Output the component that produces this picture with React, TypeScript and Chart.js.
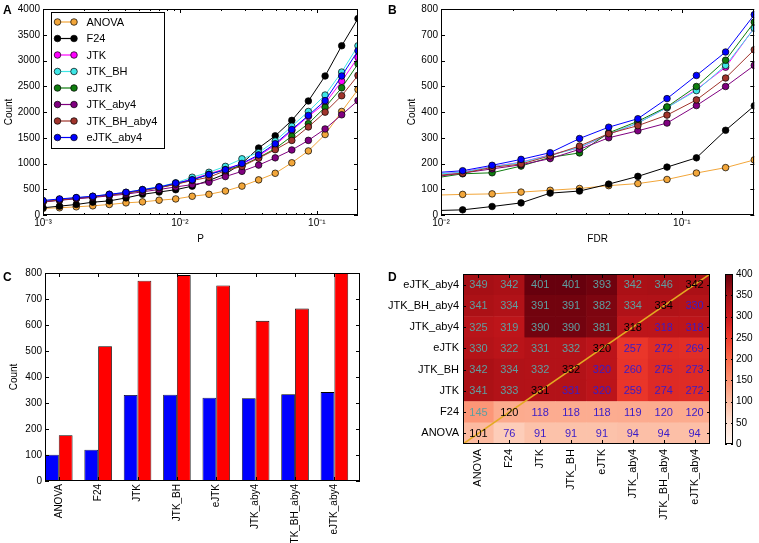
import React, { useEffect, useRef } from "react";
import { Chart, registerables } from "chart.js";

Chart.register(...registerables);

const FONT = '"Liberation Sans", Arial, Helvetica, sans-serif';
Chart.defaults.font.family = FONT;
Chart.defaults.color = "#000";

// ---------- shared ----------
const methods = ["ANOVA", "F24", "JTK", "JTK_BH", "eJTK", "JTK_aby4", "JTK_BH_aby4", "eJTK_aby4"];
const methodColors = ["#f2a63a", "#000000", "#ff00ff", "#3ee6e6", "#0f7d0f", "#800080", "#a0342c", "#0000ff"];

// ---------- panel A (P threshold) ----------
const pValues = [0.001, 0.00132, 0.00175, 0.00231, 0.00305, 0.00404, 0.00533, 0.00705, 0.00932, 0.0123,
  0.0163, 0.0215, 0.0284, 0.0376, 0.0497, 0.0657, 0.0868, 0.115, 0.152, 0.2];
const aANOVA = [128, 140, 159, 178, 204, 236, 255, 287, 312, 364, 402, 466, 561, 682, 810, 1014, 1244, 1563, 2010, 2437];
const aF24 = [140, 172, 204, 249, 274, 332, 402, 446, 491, 560, 670, 797, 1000, 1301, 1537, 1837, 2214, 2699, 3286, 3815];
const aJTK = [270, 300, 330, 358, 395, 432, 485, 540, 610, 700, 800, 900, 989, 1148, 1358, 1639, 1914, 2169, 2597, 3062];
const aJTK_BH = [275, 305, 335, 362, 400, 440, 495, 550, 625, 733, 829, 944, 1091, 1212, 1435, 1723, 2010, 2329, 2775, 3286];
const aeJTK = [255, 290, 320, 350, 385, 425, 475, 530, 600, 680, 790, 880, 957, 1116, 1288, 1531, 1774, 2092, 2469, 2935];
const aJTK_aby4 = [250, 285, 315, 340, 372, 405, 450, 495, 545, 590, 637, 746, 848, 969, 1110, 1263, 1449, 1671, 1946, 2220];
const aJTK_BH_aby4 = [260, 295, 325, 352, 390, 428, 478, 530, 595, 670, 733, 860, 944, 1103, 1269, 1448, 1710, 1997, 2316, 2711];
const aeJTK_aby4 = [281, 312, 338, 364, 402, 440, 491, 542, 619, 683, 785, 880, 1001, 1167, 1384, 1659, 1933, 2220, 2699, 3190];
const aLogTicks = [0.001, 0.01, 0.1];
const aLogMinor = [0.002, 0.003, 0.004, 0.005, 0.006, 0.007, 0.008, 0.009, 0.02, 0.03, 0.04, 0.05, 0.06, 0.07, 0.08, 0.09];
const aYTicks = [0, 500, 1000, 1500, 2000, 2500, 3000, 3500, 4000];

// ---------- panel B (FDR threshold) ----------
const fdrValues = [0.00932, 0.0123, 0.0163, 0.0215, 0.0284, 0.0376, 0.0497, 0.0657, 0.0868, 0.115, 0.152, 0.2];
const bANOVA = [77, 80, 82, 89, 96, 103, 114, 122, 138, 163, 184, 214];
const bF24 = [17, 20, 33, 47, 85, 93, 120, 150, 186, 222, 329, 424];
const bJTK = [158, 167, 188, 205, 234, 261, 313, 357, 417, 487, 574, 727];
const bJTK_BH = [158, 166, 187, 204, 232, 262, 315, 357, 417, 483, 581, 725];
const beJTK = [143, 160, 164, 190, 224, 241, 319, 364, 420, 499, 601, 749];
const bJTK_aby4 = [148, 163, 179, 195, 219, 255, 300, 327, 357, 425, 499, 581];
const bJTK_BH_aby4 = [153, 162, 185, 198, 230, 268, 316, 347, 388, 447, 532, 642];
const beJTK_aby4 = [164, 172, 193, 216, 242, 297, 341, 374, 452, 542, 633, 778];
const bLogTicks = [0.01, 0.1];
const bLogMinor = [0.02, 0.03, 0.04, 0.05, 0.06, 0.07, 0.08, 0.09];
const bYTicks = [0, 100, 200, 300, 400, 500, 600, 700, 800];

// ---------- panel C (bars) ----------
const cBlue = [101, 120, 331, 332, 320, 318, 334, 342];
const cRed = [176, 518, 770, 792, 752, 616, 663, 800];
const cYTicks = [0, 100, 200, 300, 400, 500, 600, 700, 800];

// ---------- panel D (overlap heatmap), rows bottom -> top ----------
const hANOVA = [101, 76, 91, 91, 91, 94, 94, 94];
const hF24 = [145, 120, 118, 118, 118, 119, 120, 120];
const hJTK = [341, 333, 331, 331, 320, 259, 274, 272];
const hJTK_BH = [342, 334, 332, 332, 320, 260, 275, 273];
const heJTK = [330, 322, 331, 332, 320, 257, 272, 269];
const hJTK_aby4 = [325, 319, 390, 390, 381, 318, 318, 318];
const hJTK_BH_aby4 = [341, 334, 391, 391, 382, 334, 334, 330];
const heJTK_aby4 = [349, 342, 401, 401, 393, 342, 346, 342];
const colorbarTicks = [0, 50, 100, 150, 200, 250, 300, 350, 400];
const colorMax = 400;

// ---------- helpers ----------
const REDS = [[255, 245, 240], [254, 224, 210], [252, 187, 161], [252, 146, 114], [251, 106, 74],
  [239, 59, 44], [203, 24, 29], [165, 15, 21], [103, 0, 13]];
function reds(t: number) {
  const tt = Math.max(0, Math.min(1, t));
  const p = tt * 8;
  const i = Math.min(7, Math.floor(p));
  const f = p - i;
  const c = REDS[i].map((v, k) => Math.round(v + (REDS[i + 1][k] - v) * f));
  return `rgb(${c[0]},${c[1]},${c[2]})`;
}
const SUP: Record<string, string> = { "-": "\u207B", "0": "\u2070", "1": "\u00B9", "2": "\u00B2", "3": "\u00B3",
  "4": "\u2074", "5": "\u2075", "6": "\u2076", "7": "\u2077", "8": "\u2078", "9": "\u2079" };
const logLabel = (v: number) =>
  "10" + String(Math.round(Math.log10(v))).split("").map((c) => SUP[c]).join("");
const plainLabel = (v: any) => String(v);

const TEAL = "#5f9ea0";
const BLUETXT = "#3a1cc8";

const framePlugin = {
  id: "frame",
  afterDatasetsDraw(chart: any, _a: any, o: any) {
    const { ctx, chartArea: a } = chart;
    const xs = chart.scales.x, ys = chart.scales.y;
    ctx.save();
    ctx.strokeStyle = "#000";
    ctx.lineWidth = 1;
    ctx.beginPath();
    const vx = (vals: number[], len: number) => vals.forEach((v) => {
      const p = Math.round(xs.getPixelForValue(v)) + 0.5;
      ctx.moveTo(p, a.bottom); ctx.lineTo(p, a.bottom - len);
      ctx.moveTo(p, a.top); ctx.lineTo(p, a.top + len);
    });
    const vy = (vals: number[], len: number) => vals.forEach((v) => {
      const p = Math.round(ys.getPixelForValue(v)) + 0.5;
      ctx.moveTo(a.left, p); ctx.lineTo(a.left + len, p);
      ctx.moveTo(a.right, p); ctx.lineTo(a.right - len, p);
    });
    if (o.xMajor) vx(o.xMajor, 4);
    if (o.xMinor) vx(o.xMinor, 2);
    if (o.yMajor) vy(o.yMajor, o.yLen || 4);
    ctx.stroke();
    ctx.strokeRect(Math.round(a.left) + 0.5, Math.round(a.top) + 0.5,
      Math.round(a.right - a.left) - 1, Math.round(a.bottom - a.top) - 1);
    ctx.restore();
  },
};

const legendPlugin = {
  id: "mplLegend",
  afterDraw(chart: any, _a: any, o: any) {
    if (!o || !o.show) return;
    const { ctx } = chart;
    ctx.save();
    ctx.fillStyle = "#fff";
    ctx.fillRect(o.x, o.y, o.w, o.h);
    ctx.strokeStyle = "#000";
    ctx.lineWidth = 1;
    ctx.strokeRect(o.x + 0.5, o.y + 0.5, o.w, o.h);
    ctx.font = `11px ${FONT}`;
    ctx.textBaseline = "middle";
    ctx.textAlign = "left";
    chart.data.datasets.forEach((ds: any, i: number) => {
      const cy = o.y + o.first + i * o.step;
      ctx.strokeStyle = ds.borderColor;
      ctx.lineWidth = 1.2;
      ctx.beginPath(); ctx.moveTo(o.x1, cy); ctx.lineTo(o.x2, cy); ctx.stroke();
      [o.x1, o.x2].forEach((cx: number) => {
        ctx.beginPath(); ctx.arc(cx, cy, 3.3, 0, Math.PI * 2);
        ctx.fillStyle = ds.borderColor; ctx.fill();
        ctx.strokeStyle = "#000"; ctx.lineWidth = 0.7; ctx.stroke();
      });
      ctx.fillStyle = "#000";
      ctx.fillText(ds.label, o.tx, cy + 0.5);
    });
    ctx.restore();
  },
};

const heatPlugin = {
  id: "heat",
  afterDatasetsDraw(chart: any) {
    const { ctx, chartArea: a } = chart;
    ctx.save();
    ctx.beginPath(); ctx.rect(a.left, a.top, a.right - a.left, a.bottom - a.top); ctx.clip();
    ctx.strokeStyle = "#e3aa22"; ctx.lineWidth = 1.5;
    ctx.beginPath(); ctx.moveTo(a.left, a.bottom); ctx.lineTo(a.right, a.top); ctx.stroke();
    ctx.restore();
    ctx.save();
    ctx.font = `11px ${FONT}`;
    ctx.textAlign = "center";
    ctx.textBaseline = "middle";
    chart.data.datasets.forEach((ds: any, r: number) => {
      const meta = chart.getDatasetMeta(r);
      meta.data.forEach((el: any, c: number) => {
        const p = el.getProps(["x", "y", "base"], true);
        ctx.fillStyle = c < r ? TEAL : c === r ? "#000" : BLUETXT;
        ctx.fillText(String(ds.cellValues[c]), p.x, (p.y + p.base) / 2 + 0.5);
      });
    });
    ctx.restore();
  },
};

const W = 759, H = 543;
const tickFont = { family: FONT, size: 10 };
const noGrid = { display: false, drawTicks: false };

function lineDatasets(xs: number[], series: number[][]) {
  return methods.map((m, i) => ({
    label: m,
    data: xs.map((x, j) => ({ x, y: series[i][j] })),
    borderColor: methodColors[i],
    backgroundColor: methodColors[i],
    pointBackgroundColor: methodColors[i],
    pointBorderColor: "#000",
    pointBorderWidth: 0.7,
    pointRadius: 3.3,
    borderWidth: 1,
    order: methods.length - i,
  }));
}

function lineConfig(opts: any): any {
  const { area, xs, series, xMin, xMax, logTicks, logMinor, yMax, yTicks, yWidth, xTitle, legend } = opts;
  return {
    type: "line",
    data: { datasets: lineDatasets(xs, series) },
    plugins: [framePlugin, legendPlugin],
    options: {
      animation: false, responsive: false, devicePixelRatio: 1,
      layout: { padding: { left: area.l - yWidth, top: area.t, right: W - area.r, bottom: H - (area.b + 30) } },
      plugins: {
        legend: { display: false }, tooltip: { enabled: false },
        frame: { xMajor: logTicks, xMinor: logMinor, yMajor: yTicks },
        mplLegend: legend || { show: false },
      },
      scales: {
        x: {
          type: "logarithmic", min: xMin, max: xMax,
          grid: noGrid, border: { display: false },
          afterBuildTicks: (s: any) => { s.ticks = logTicks.map((v: number) => ({ value: v, major: true })); },
          ticks: { callback: (v: any) => logLabel(Number(v)), font: tickFont, padding: 2, maxRotation: 0, autoSkip: false },
          title: { display: true, text: xTitle, font: tickFont, padding: 0 },
          afterFit: (s: any) => { s.height = 30; },
        },
        y: {
          type: "linear", min: 0, max: yMax,
          grid: noGrid, border: { display: false },
          afterBuildTicks: (s: any) => { s.ticks = yTicks.map((v: number) => ({ value: v })); },
          ticks: { callback: plainLabel, font: tickFont, padding: 3, autoSkip: false },
          title: { display: true, text: "Count", font: tickFont, padding: 0 },
          afterFit: (s: any) => { s.width = yWidth; },
        },
      },
    },
  };
}

function configA() {
  return lineConfig({
    area: { l: 43, t: 6, r: 358, b: 215 }, xs: pValues,
    series: [aANOVA, aF24, aJTK, aJTK_BH, aeJTK, aJTK_aby4, aJTK_BH_aby4, aeJTK_aby4],
    xMin: 0.001, xMax: 0.2, logTicks: aLogTicks, logMinor: aLogMinor, yMax: 4000, yTicks: aYTicks,
    yWidth: 39.5, xTitle: "P",
    legend: { show: true, x: 51, y: 12, w: 113, h: 136, first: 10, step: 16.5, x1: 57.5, x2: 74, tx: 86.5 },
  });
}

function configB() {
  return lineConfig({
    area: { l: 441, t: 6, r: 756, b: 215 }, xs: fdrValues,
    series: [bANOVA, bF24, bJTK, bJTK_BH, beJTK, bJTK_aby4, bJTK_BH_aby4, beJTK_aby4],
    xMin: 0.01, xMax: 0.2, logTicks: bLogTicks, logMinor: bLogMinor, yMax: 800, yTicks: bYTicks,
    yWidth: 35, xTitle: "FDR",
  });
}

function configC(): any {
  const area = { l: 45, t: 273, r: 360, b: 481 };
  const yWidth = 37;
  const pos = methods.map((_, i) => i + 0.35);
  return {
    type: "bar",
    data: {
      datasets: [
        { label: "Count (blue)", data: pos.map((x, i) => ({ x, y: cBlue[i] })), backgroundColor: "#0000ff",
          borderColor: "#000", borderWidth: 0.8, categoryPercentage: 0.7, barPercentage: 1 },
        { label: "Count (red)", data: pos.map((x, i) => ({ x, y: cRed[i] })), backgroundColor: "#ff0000",
          borderColor: "#000", borderWidth: 0.8, categoryPercentage: 0.7, barPercentage: 1 },
      ],
    },
    plugins: [framePlugin],
    options: {
      animation: false, responsive: false, devicePixelRatio: 1,
      layout: { padding: { left: area.l - yWidth, top: area.t, right: W - area.r, bottom: H - (area.b + 62) } },
      plugins: { legend: { display: false }, tooltip: { enabled: false }, frame: { xMajor: pos, yMajor: cYTicks } },
      scales: {
        x: {
          type: "linear", min: 0, max: methods.length, offset: false,
          grid: noGrid, border: { display: false },
          afterBuildTicks: (s: any) => { s.ticks = pos.map((v) => ({ value: v })); },
          ticks: { callback: (v: any) => methods[Math.round(Number(v) - 0.35)], font: tickFont, padding: 3,
            minRotation: 90, maxRotation: 90, autoSkip: false },
          afterFit: (s: any) => { s.height = 62; },
        },
        y: {
          type: "linear", min: 0, max: 800,
          grid: noGrid, border: { display: false },
          afterBuildTicks: (s: any) => { s.ticks = cYTicks.map((v) => ({ value: v })); },
          ticks: { callback: plainLabel, font: tickFont, padding: 3, autoSkip: false },
          title: { display: true, text: "Count", font: tickFont, padding: 0 },
          afterFit: (s: any) => { s.width = yWidth; },
        },
      },
    },
  };
}

function configD(): any {
  const area = { l: 463, t: 274, r: 710, b: 444 };
  const yWidth = 100;
  const rows = [hANOVA, hF24, hJTK, hJTK_BH, heJTK, hJTK_aby4, hJTK_BH_aby4, heJTK_aby4];
  const rowTicks = methods.map((_, i) => i + 0.5);
  const labFont = { family: FONT, size: 11 };
  return {
    type: "bar",
    data: {
      labels: methods,
      datasets: rows.map((row, r) => ({
        label: methods[r],
        data: row.map(() => 1),
        cellValues: row,
        backgroundColor: row.map((v) => reds(v / colorMax)),
        borderWidth: 0,
        categoryPercentage: 1,
        barPercentage: 1,
      })),
    },
    plugins: [heatPlugin, framePlugin],
    options: {
      animation: false, responsive: false, devicePixelRatio: 1,
      layout: { padding: { left: area.l - yWidth, top: area.t, right: W - area.r, bottom: H - (area.b + 99) } },
      plugins: {
        legend: { display: false }, tooltip: { enabled: false },
        frame: { xMajor: methods.map((_, i) => i), yMajor: rowTicks, yLen: 3 },
      },
      scales: {
        x: {
          type: "category", stacked: true, offset: true,
          grid: { display: false, drawTicks: false, offset: true }, border: { display: false },
          ticks: { font: labFont, padding: 5, minRotation: 90, maxRotation: 90, autoSkip: false },
          afterFit: (s: any) => { s.height = 99; },
        },
        y: {
          type: "linear", stacked: true, min: 0, max: methods.length,
          grid: noGrid, border: { display: false },
          afterBuildTicks: (s: any) => { s.ticks = rowTicks.map((v) => ({ value: v })); },
          ticks: { callback: (v: any) => methods[Math.floor(Number(v))], font: labFont, padding: 4, autoSkip: false },
          afterFit: (s: any) => { s.width = yWidth; },
        },
      },
    },
  };
}

function configE(): any {
  const area = { l: 725, t: 274, r: 733, b: 444 };
  return {
    type: "bar",
    data: {
      labels: [""],
      datasets: [{
        label: "colour scale",
        data: [colorMax],
        borderWidth: 0,
        categoryPercentage: 1,
        barPercentage: 1,
        backgroundColor: (c: any) => {
          const a = c.chart.chartArea;
          if (!a) return "rgba(0,0,0,0)";
          const g = c.chart.ctx.createLinearGradient(0, a.bottom, 0, a.top);
          REDS.forEach((rgb, k) => g.addColorStop(k / 8, `rgb(${rgb[0]},${rgb[1]},${rgb[2]})`));
          return g;
        },
      }],
    },
    plugins: [framePlugin],
    options: {
      animation: false, responsive: false, devicePixelRatio: 1,
      layout: { padding: { left: area.l, top: area.t, right: W - area.r - 26, bottom: H - area.b } },
      plugins: { legend: { display: false }, tooltip: { enabled: false }, frame: { yMajor: colorbarTicks, yLen: 2 } },
      scales: {
        x: { type: "category", display: false, offset: true },
        y: {
          type: "linear", position: "right", min: 0, max: colorMax,
          grid: noGrid, border: { display: false },
          afterBuildTicks: (s: any) => { s.ticks = colorbarTicks.map((v) => ({ value: v })); },
          ticks: { callback: plainLabel, font: { family: FONT, size: 10 }, padding: 3, autoSkip: false },
          afterFit: (s: any) => { s.width = 26; },
        },
      },
    },
  };
}

const letterStyle = (left: number, top: number): React.CSSProperties => ({
  position: "absolute", left, top, font: `bold 12px ${FONT}`, lineHeight: "12px", color: "#000",
});

export default function App() {
  const rA = useRef<HTMLCanvasElement>(null);
  const rB = useRef<HTMLCanvasElement>(null);
  const rC = useRef<HTMLCanvasElement>(null);
  const rD = useRef<HTMLCanvasElement>(null);
  const rE = useRef<HTMLCanvasElement>(null);

  useEffect(() => {
    const charts = [
      new Chart(rA.current as HTMLCanvasElement, configA()),
      new Chart(rB.current as HTMLCanvasElement, configB()),
      new Chart(rC.current as HTMLCanvasElement, configC()),
      new Chart(rD.current as HTMLCanvasElement, configD()),
      new Chart(rE.current as HTMLCanvasElement, configE()),
    ];
    return () => charts.forEach((c) => c.destroy());
  }, []);

  const cv: React.CSSProperties = { position: "absolute", left: 0, top: 0 };
  return (
    <div style={{ position: "fixed", left: 0, top: 0, width: W, height: H, overflow: "hidden", background: "#fff" }}>
      <canvas ref={rA} width={W} height={H} style={cv} />
      <canvas ref={rB} width={W} height={H} style={cv} />
      <canvas ref={rC} width={W} height={H} style={cv} />
      <canvas ref={rD} width={W} height={H} style={cv} />
      <canvas ref={rE} width={W} height={H} style={cv} />
      <div style={letterStyle(3, 3.5)}>A</div>
      <div style={letterStyle(388, 3.5)}>B</div>
      <div style={letterStyle(3, 270.5)}>C</div>
      <div style={letterStyle(388, 270.5)}>D</div>
    </div>
  );
}
